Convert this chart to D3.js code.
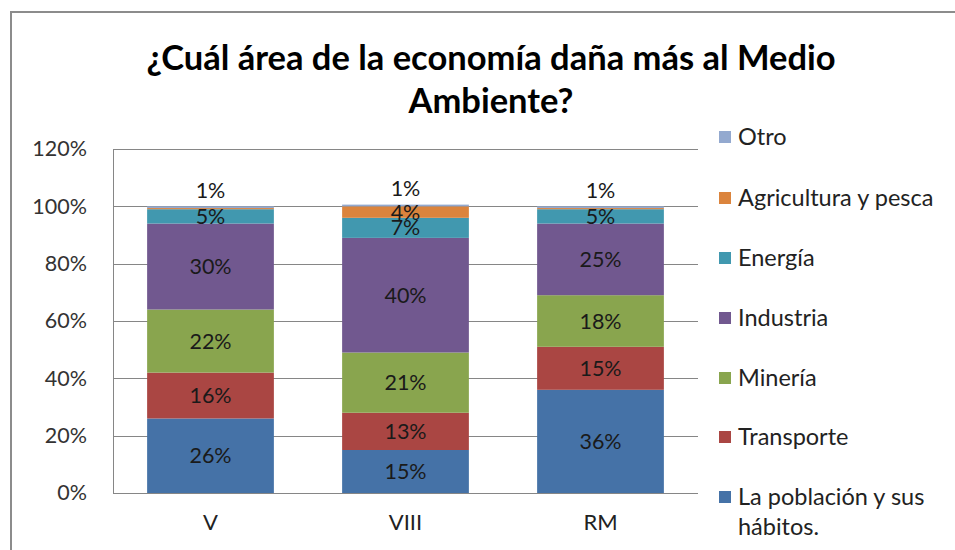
<!DOCTYPE html>
<html>
<head>
<meta charset="utf-8">
<script src="https://cdn.jsdelivr.net/npm/d3@7"></script>
<style>
  html, body { margin: 0; padding: 0; background: #fff; }
  svg { display: block; font-family: Lato, "Open Sans", sans-serif; }
</style>
</head>
<body>
<svg id="chart" width="955" height="550"></svg>
<script>
// Regions surveyed
const regions = ["V", "VIII", "RM"];

// Series, bottom to top of each stack
const seriesNames = [
  "La población y sus hábitos.",
  "Transporte",
  "Minería",
  "Industria",
  "Energía",
  "Agricultura y pesca",
  "Otro"
];

// Share of answers (%) per region, in the order of `regions`
const poblacion   = [26, 15, 36];
const transporte  = [16, 13, 15];
const mineria     = [22, 21, 18];
const industria   = [30, 40, 25];
const energia     = [5, 7, 5];
const agricultura = [0.4, 4, 0.4];
const otro        = [0.6, 0.6, 0.6];

const yTicks = [0, 20, 40, 60, 80, 100, 120];

const seriesColors = ["#4572A7", "#AA4643", "#89A54E", "#71588F", "#4198AF", "#DB843D", "#93A9CF"];

const seriesValues = [poblacion, transporte, mineria, industria, energia, agricultura, otro];
const rows = regions.map((r, i) => {
  const row = { region: r };
  seriesNames.forEach((s, k) => { row[s] = seriesValues[k][i]; });
  return row;
});

const svg = d3.select("#chart");

// outer chart frame
svg.append("path")
  .attr("d", "M11,560 L11,12 L960,12")
  .attr("fill", "none")
  .attr("stroke", "#8c8c8c")
  .attr("stroke-width", 2);

const plot = { left: 113, right: 698, top: 149, bottom: 493 };

const x = d3.scaleBand()
  .domain(regions)
  .range([plot.left, plot.right])
  .paddingInner(0.35)
  .paddingOuter(0.175);

const y = d3.scaleLinear()
  .domain([0, 120])
  .range([plot.bottom, plot.top]);

const gridColor = "#868686";

// horizontal gridlines
svg.append("g")
  .selectAll("line")
  .data(yTicks.filter(t => t > 0))
  .join("line")
  .attr("x1", plot.left).attr("x2", plot.right)
  .attr("y1", d => Math.round(y(d)) + 0.5).attr("y2", d => Math.round(y(d)) + 0.5)
  .attr("stroke", gridColor).attr("stroke-width", 1);

// y axis labels
const yAxis = d3.axisLeft(y).tickValues(yTicks).tickFormat(d => d + "%").tickSize(0).tickPadding(26);
const gy = svg.append("g").attr("transform", `translate(${plot.left},0)`).call(yAxis);
gy.select(".domain").remove();
gy.selectAll("text")
  .attr("font-size", 21.5)
  .attr("font-family", "Lato, sans-serif")
  .attr("fill", "#333");

// stacked bars
const stack = d3.stack().keys(seriesNames);
const layers = stack(rows);

const layerG = svg.append("g")
  .selectAll("g")
  .data(layers)
  .join("g")
  .attr("fill", (d, i) => seriesColors[i]);

layerG.selectAll("rect")
  .data(d => d)
  .join("rect")
  .attr("x", d => x(d.data.region))
  .attr("width", x.bandwidth())
  .attr("y", d => y(d[1]))
  .attr("height", d => y(d[0]) - y(d[1]));

// axis lines
svg.append("line")
  .attr("x1", plot.left + 0.5).attr("x2", plot.left + 0.5)
  .attr("y1", plot.top).attr("y2", plot.bottom + 0.5)
  .attr("stroke", gridColor);
svg.append("line")
  .attr("x1", plot.left).attr("x2", plot.right)
  .attr("y1", plot.bottom + 0.5).attr("y2", plot.bottom + 0.5)
  .attr("stroke", gridColor);

// x axis labels
const xAxis = d3.axisBottom(x).tickSize(0).tickPadding(21);
const gx = svg.append("g").attr("transform", `translate(0,${plot.bottom})`).call(xAxis);
gx.select(".domain").remove();
gx.selectAll("text")
  .attr("font-size", 22)
  .attr("font-family", "Lato, sans-serif")
  .attr("fill", "#222");

// value labels
const fmt = v => Math.round(v) + "%";
const labelG = svg.append("g")
  .attr("font-size", 21.5)
  .attr("text-anchor", "middle")
  .attr("fill", "#1a1a1a");

layers.forEach((layer, k) => {
  const name = seriesNames[k];
  layer.forEach(d => {
    const v = d.data[name];
    if (Math.round(v) < 1) return;
    let cy = (y(d[0]) + y(d[1])) / 2;
    if (name === "Otro") cy = y(d[1]) - 16;
    labelG.append("text")
      .attr("x", x(d.data.region) + x.bandwidth() / 2)
      .attr("y", cy)
      .attr("dy", "0.35em")
      .text(fmt(v));
  });
});

// title
const title = svg.append("text")
  .attr("text-anchor", "middle")
  .attr("font-size", 34.5)
  .attr("font-weight", "bold")
  .attr("fill", "#000");
title.append("tspan").attr("x", 491).attr("y", 70).text("¿Cuál área de la economía daña más al Medio");
title.append("tspan").attr("x", 491).attr("y", 113).text("Ambiente?");

// legend, top entry is the last series
const legendY = [137, 198, 258, 318, 378, 437, 497];
const legendNames = seriesNames.slice().reverse();
const legendColors = seriesColors.slice().reverse();
const lg = svg.append("g");
legendNames.forEach((name, i) => {
  const cy = legendY[i];
  lg.append("rect")
    .attr("x", 719).attr("y", cy - 6)
    .attr("width", 12).attr("height", 12)
    .attr("fill", legendColors[i]);
  const t = lg.append("text")
    .attr("x", 738)
    .attr("font-size", 23.5)
    .attr("fill", "#222");
  if (name === "La población y sus hábitos.") {
    t.append("tspan").attr("x", 738).attr("y", cy).attr("dy", "0.35em").text("La población y sus");
    t.append("tspan").attr("x", 738).attr("y", cy + 30).attr("dy", "0.35em").text("hábitos.");
  } else {
    t.attr("y", cy).attr("dy", "0.35em").text(name);
  }
});
</script>
</body>
</html>
